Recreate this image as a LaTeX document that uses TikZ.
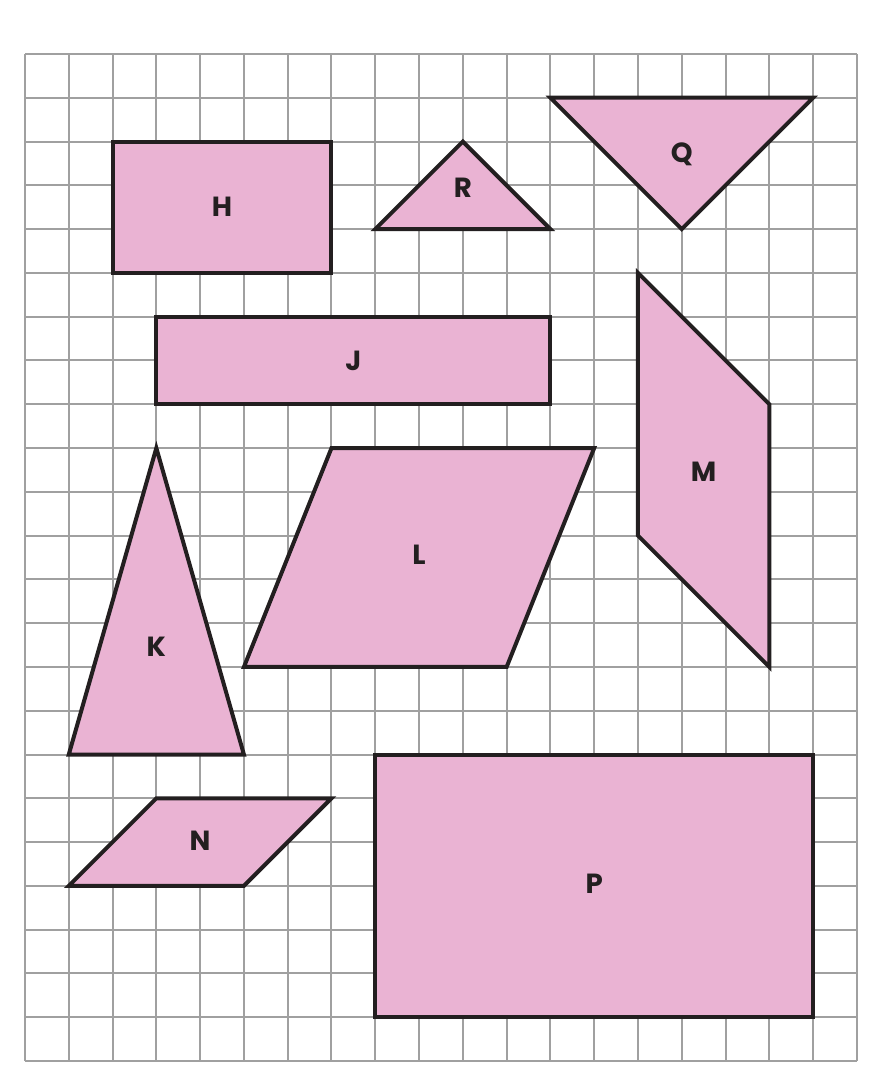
\documentclass[tikz,border=0pt]{standalone}
\usepackage{fontspec}
\setmainfont{Poppins}
\usepackage{tikz}
\definecolor{shapepink}{HTML}{EAB3D3}
\definecolor{gridgray}{HTML}{A0A0A0}
\definecolor{edgeblack}{HTML}{231F20}
\tikzstyle{figure} = [draw=edgeblack, fill=shapepink, line width=2.6pt, line join=miter]
\tikzstyle{letter} = [font=\bfseries\fontsize{18}{20}\selectfont, text=edgeblack, inner sep=0pt]

\begin{document}
\begin{tikzpicture}[x=1cm, y=1cm]
	\useasboundingbox (-0.571,-0.662) rectangle (19.525,24.233);
	\draw[gridgray, line width=1.3pt] (0,0) grid (19,23);
	% rectangles
	\draw[figure] (2,21) rectangle (7,18);
	\draw[figure] (3,17) rectangle (12,15);
	\draw[figure] (8,7) rectangle (18,1);
	% triangles
	\draw[figure] (8,19) -- (12,19) -- (10,21) -- cycle;
	\draw[figure] (12,22) -- (18,22) -- (15,19) -- cycle;
	\draw[figure] (3,14) -- (5,7) -- (1,7) -- cycle;
	% parallelograms
	\draw[figure] (14,18) -- (17,15) -- (17,9) -- (14,12) -- cycle;
	\draw[figure] (7,14) -- (13,14) -- (11,9) -- (5,9) -- cycle;
	\draw[figure] (3,6) -- (7,6) -- (5,4) -- (1,4) -- cycle;
	% names
	\node[letter] (H) at (4.5,19.5) {H};
	\node[letter] (R) at (10,19.95) {R};
	\node[letter] (Q) at (15,20.7) {Q};
	\node[letter] (J) at (7.5,16) {J};
	\node[letter] (M) at (15.5,13.46) {M};
	\node[letter] (L) at (9,11.56) {L};
	\node[letter] (K) at (3,9.45) {K};
	\node[letter] (N) at (4,5.02) {N};
	\node[letter] (P) at (13,4.04) {P};
\end{tikzpicture}
\end{document}
